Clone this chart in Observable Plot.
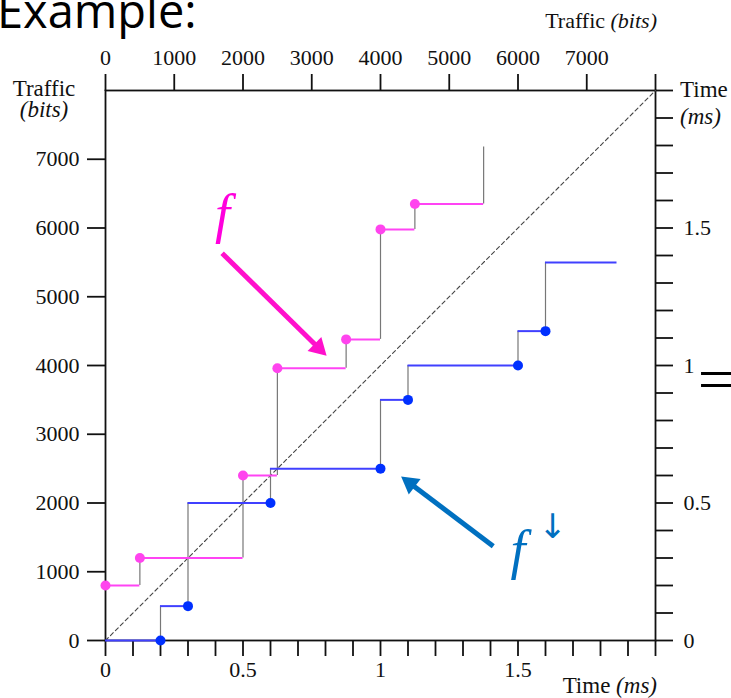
<!DOCTYPE html>
<html><head><meta charset="utf-8">
<script src="https://cdn.jsdelivr.net/npm/d3@7"></script>
<script src="https://cdn.jsdelivr.net/npm/@observablehq/plot@0.6"></script>
<style>
body{margin:0;background:#fff;}
#wrap{position:relative;width:731px;height:698px;overflow:hidden;font-family:"Liberation Serif",serif;background:#fff;}
.t{position:absolute;font-size:23px;color:#111;white-space:nowrap;line-height:20px;}
.i{font-style:italic;}
#ex{position:absolute;left:-3px;top:-13px;font-family:"Open Sans",sans-serif;font-size:47px;line-height:47px;color:#000;}
#eq{position:absolute;left:697px;top:349px;font-family:"Liberation Serif",serif;font-size:60px;line-height:60px;color:#000;transform:scaleX(1.35);transform-origin:left center;}
</style></head><body><div id="wrap"></div>
<script>
// ---- data ----
const fTimes  = [0, 0.125, 0.5, 0.625, 0.875, 1.0, 1.125, 1.375];      // ms
const fValues = [800, 1200, 2400, 3960, 4380, 5980, 6350, 7180];        // bits
const gTimes  = [0, 0.2, 0.3, 0.6, 1.0, 1.1, 1.5, 1.6, 1.86];           // ms
const gValues = [0, 500, 2000, 2500, 3500, 4000, 4500, 5500];           // bits
const timeTicks = d3.range(0, 21).map(i => i / 10);                      // 0 .. 2 ms
const timeLabels = [0, 0.5, 1, 1.5];
const trafficTicks = d3.range(0, 9).map(i => i * 1000);                  // 0 .. 8000 bits
const trafficLabels = [0, 1000, 2000, 3000, 4000, 5000, 6000, 7000];
const bitsPerMs = 4000;
const diagonal = [{t: 0, v: 0}, {t: 2, v: 8000}];
const arrowTail = [[0.424, 5633], [1.410, 1372]];
const arrowTip  = [[0.804, 4141], [1.075, 2385]];
const arrowColors = ["#ff10cc", "#0070c0"];
const fLabel = {t: 0.425, v: 6200};
const gLabel = {t: 1.50, v: 1300};
const gArrowLabel = {t: 1.625, v: 1650};

// ---- derived tables ----
const fSteps = fTimes.slice(0, -1).map((t, i) => ({x1: t, x2: fTimes[i + 1], y: fValues[i]}));
const fRises = fTimes.slice(1).map((t, i) => ({x: t, y1: fValues[i], y2: fValues[i + 1]}));
const fDots  = fTimes.slice(0, -1).map((t, i) => ({x: t, y: fValues[i]}));
const gSteps = gValues.map((v, i) => ({x1: gTimes[i], x2: gTimes[i + 1], y: v}));
const gRises = gValues.slice(1).map((v, i) => ({x: gTimes[i + 1], y1: gValues[i], y2: v}));
const gDots  = gValues.slice(0, -1).map((v, i) => ({x: gTimes[i + 1], y: v}));

const W = 731, H = 698, mL = 105, mR = 76, mT = 90, mB = 58;
const kx = (W - mL - mR) / 2, ky = (H - mT - mB) / 8000;
const headH = 17, yy = headH / 3;
const headR = Math.sqrt(yy * yy * 3 * Math.sqrt(3) / Math.PI);
const arrows = arrowTail.map((a, i) => {
  const b = arrowTip[i];
  const dx = (b[0] - a[0]) * kx, dy = -(b[1] - a[1]) * ky;
  const L = Math.hypot(dx, dy), ux = dx / L, uy = dy / L;
  const back = (d) => [b[0] - ux * d / kx, b[1] + uy * d / ky];
  const s = back(headH - 3), c = back(2 * yy);
  return {x1: a[0], y1: a[1], x2: s[0], y2: s[1], cx: c[0], cy: c[1],
          rot: Math.atan2(dy, dx) * 180 / Math.PI + 90, color: arrowColors[i]};
});

const fmtTime = d => { const r = Math.round(d * 10) / 10; return timeLabels.includes(r) ? String(r) : ""; };

const chart = Plot.plot({
  width: W, height: H,
  marginLeft: mL, marginRight: mR, marginTop: mT, marginBottom: mB,
  x: {domain: [0, 2]},
  y: {domain: [0, 8000]},
  style: {fontFamily: "Liberation Serif, serif", fontSize: "22px", background: "transparent", color: "#111", overflow: "visible"},
  marks: [
    Plot.frame({stroke: "#111", strokeWidth: 1.8}),
    Plot.axisX({ticks: timeTicks, anchor: "bottom", tickSize: 16, tickPadding: 5, tickFormat: fmtTime, label: null, strokeWidth: 1.8}),
    Plot.axisY({ticks: trafficLabels, anchor: "left", tickSize: 18, tickPadding: 8, tickFormat: d => String(d), label: null, strokeWidth: 1.8}),
    Plot.axisX({ticks: trafficTicks.map(b => b / bitsPerMs), anchor: "top", tickSize: 17, tickPadding: 9,
      tickFormat: d => { const b = Math.round(d * bitsPerMs); return trafficLabels.includes(b) ? String(b) : ""; }, label: null, strokeWidth: 1.8}),
    Plot.axisY({ticks: timeTicks.map(t => t * bitsPerMs), anchor: "right", tickSize: 17, tickPadding: 11,
      tickFormat: d => fmtTime(d / bitsPerMs), label: null, strokeWidth: 1.8}),
    Plot.line(diagonal, {x: "t", y: "v", stroke: "#444", strokeWidth: 1.1, strokeDasharray: "4,3"}),
    Plot.ruleX(fRises, {x: "x", y1: "y1", y2: "y2", stroke: "#777", strokeWidth: 1.2}),
    Plot.ruleX(gRises, {x: "x", y1: "y1", y2: "y2", stroke: "#777", strokeWidth: 1.2}),
    Plot.ruleY(fSteps, {x1: "x1", x2: "x2", y: "y", stroke: "#ff44f4", strokeWidth: 2}),
    Plot.ruleY(gSteps, {x1: "x1", x2: "x2", y: "y", stroke: "#4040ff", strokeWidth: 2}),
    Plot.dot(fDots, {x: "x", y: "y", r: 5, fill: "#ff44ee"}),
    Plot.dot(gDots, {x: "x", y: "y", r: 5, fill: "#0030ff"}),
    Plot.link(arrows, {x1: "x1", y1: "y1", x2: "x2", y2: "y2", stroke: "color", strokeWidth: 5}),
    Plot.dot(arrows, {x: "cx", y: "cy", symbol: "triangle", r: headR, fill: "color", rotate: "rot"}),
    Plot.text([fLabel], {x: "t", y: "v", text: () => "f", fontSize: 54, fontStyle: "italic", fill: "#ff00dd", textAnchor: "middle"}),
    Plot.text([gLabel], {x: "t", y: "v", text: () => "f", fontSize: 54, fontStyle: "italic", fill: "#0070c0", textAnchor: "middle"}),
    Plot.text([gArrowLabel], {x: "t", y: "v", text: () => "↓", fontSize: 34, fontFamily: "DejaVu Sans", fill: "#0070c0", textAnchor: "middle"})
  ]
});

const wrap = document.getElementById("wrap");
wrap.appendChild(chart);
const html = `
<div id="ex">Example:</div>
<div id="eq">=</div>
<div class="t" style="left:8px;width:72px;text-align:center;top:78px;line-height:21px;">Traffic<br><span class="i">(bits)</span></div>
<div class="t" style="right:74px;top:11px;font-size:22px;">Traffic <span class="i">(bits)</span></div>
<div class="t" style="left:680px;top:76px;line-height:27px;">Time<br><span class="i">(ms)</span></div>
<div class="t" style="right:74px;top:676px;">Time <span class="i">(ms)</span></div>`;
wrap.insertAdjacentHTML("beforeend", html);
</script></body></html>
